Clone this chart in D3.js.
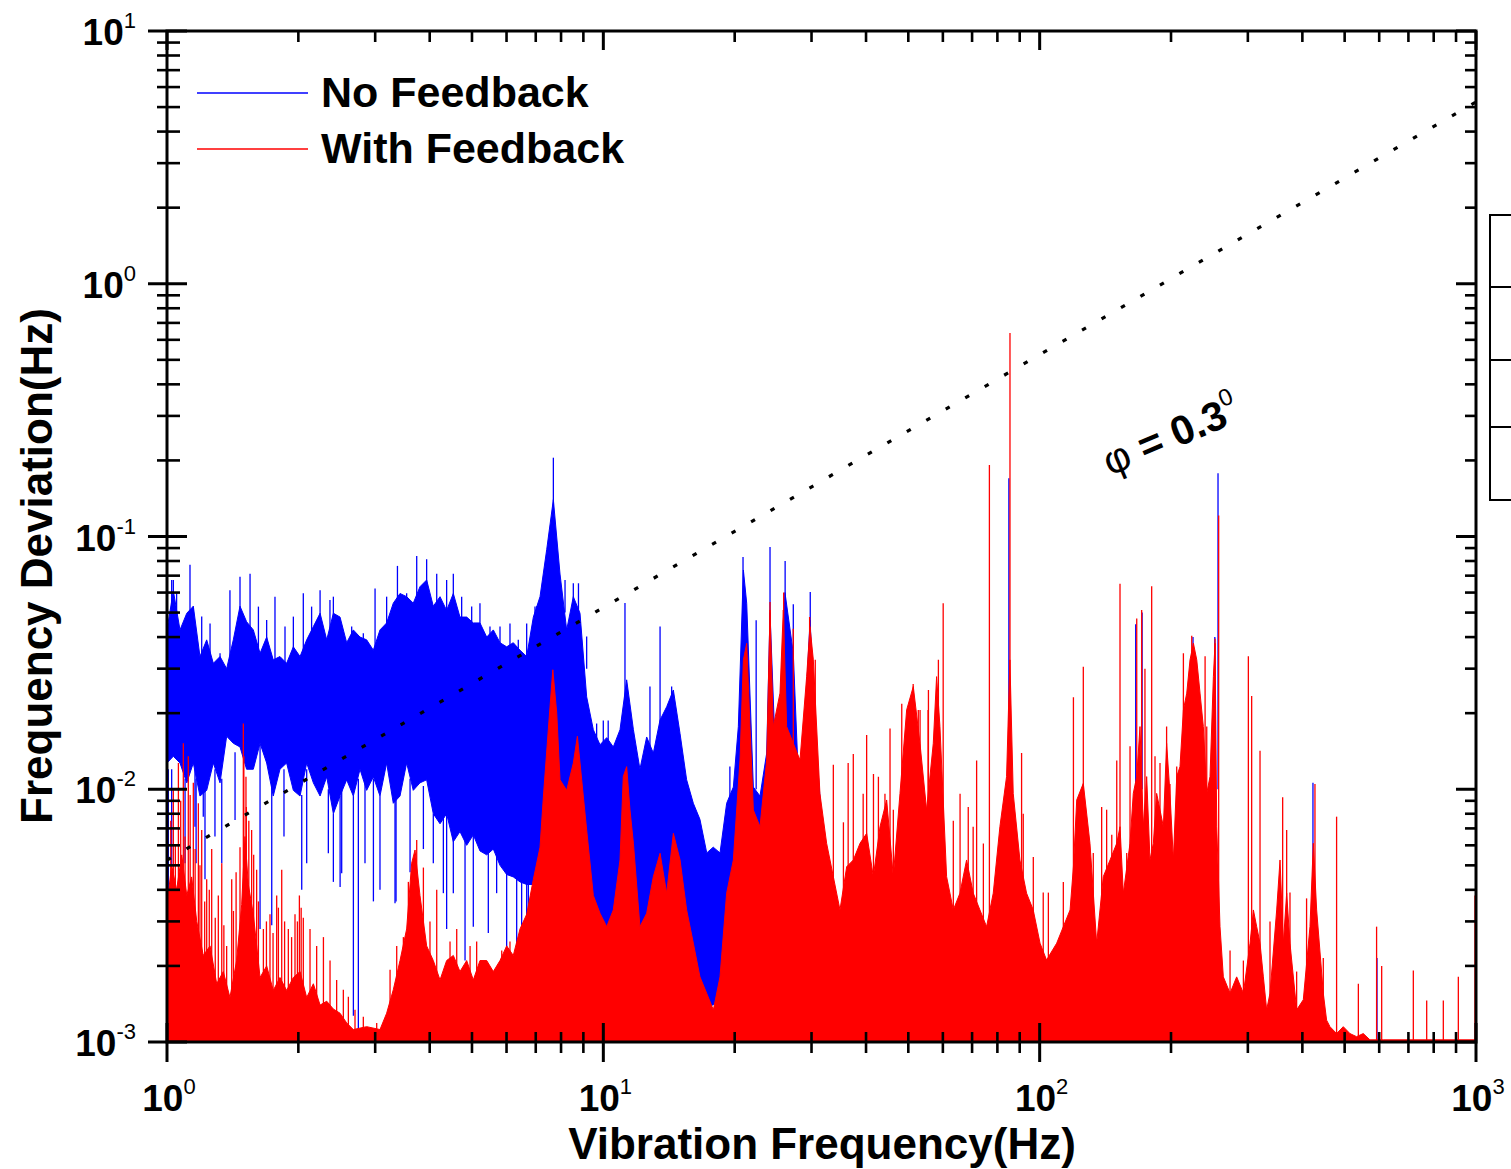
<!DOCTYPE html>
<html lang="en">
<head>
<meta charset="UTF-8">
<title>Frequency Deviation vs Vibration Frequency</title>
<script src="https://cdnjs.cloudflare.com/ajax/libs/d3/7.8.5/d3.min.js"></script>
<style>
    body,html{
        margin:0;
        padding:0;
        border:0;
        background:#fff;
    }
    svg{display:block;font-family:"Liberation Sans",Arial,sans-serif;}
</style>
</head>
<body>
<svg id="chart" width="1511" height="1169"></svg>
<script>
// No Feedback (blue): band envelope, Hz
var nfFreq = [1.00,1.034,1.071,1.110,1.149,1.190,1.233,1.277,1.323,1.370,1.419,1.470,1.522,1.577,1.634,1.692,1.752,1.815,1.880,1.948,
    2.018,2.090,2.165,2.243,2.323,2.406,2.492,2.581,2.673,2.769,2.868,2.971,3.077,3.187,3.301,3.420,3.542,3.668,3.800,3.936,
    4.077,4.224,4.374,4.531,4.693,4.862,5.035,5.216,5.404,5.596,5.797,6.004,6.218,6.442,6.673,6.912,7.160,7.418,7.682,7.957,
    8.241,8.536,8.842,9.158,9.486,9.826,10.18,10.54,10.92,11.31,11.72,12.13,
    12.57,13.02,13.49,13.97,14.47,14.99,15.52,16.08,16.65,17.26,17.86,18.51,19.17,19.86,20.39,20.94,21.31,22.07,22.86,23.68,
    24.10,24.96,26.08,27.25,28.24,29.77,30.83,32.50,35.0];
var nfUpper = [0.0427,0.061,0.0427,0.0497,0.053,0.0335,0.039,0.0315,0.0335,0.030,0.039,0.053,0.046,0.0427,0.0345,0.040,0.0325,0.0335,0.0315,0.0366,
    0.0335,0.039,0.044,0.0497,0.039,0.0497,0.048,0.038,0.0427,0.040,0.039,0.0355,0.0427,0.0455,0.0545,0.0595,0.0578,0.0545,0.0633,0.0673,
    0.053,0.0578,0.051,0.0595,0.048,0.048,0.0455,0.0455,0.040,0.0427,0.038,0.0366,0.038,0.0355,0.0335,0.048,0.0578,0.089,0.14,0.071,
    0.0427,0.0578,0.0497,0.0232,0.0172,0.015,0.016,0.0147,0.0172,0.0271,0.0172,0.012,
    0.0161,0.0139,0.0188,0.0212,0.0247,0.0166,0.0109,0.0088,0.0076,0.0056,0.0059,0.0056,0.0088,0.0102,0.0177,0.0737,0.0544,0.0102,0.0094,0.0139,
    0.05,0.0102,0.06,0.0345,0.0076,0.0467,0.0139,0.0041,0.0012];
var nfLower = [0.0127,0.0135,0.0127,0.0106,0.0127,0.0094,0.0099,0.0127,0.0106,0.0162,0.0152,0.0147,0.0120,0.0120,0.0152,0.0127,0.0094,0.0120,0.0127,0.0099,
    0.0094,0.0127,0.0106,0.0094,0.0112,0.0080,0.0094,0.0109,0.0094,0.0120,0.0099,0.0112,0.0094,0.0127,0.0088,0.0094,0.0127,0.0099,0.0106,0.0109,
    0.0080,0.0073,0.0080,0.0062,0.0068,0.0060,0.0066,0.0057,0.0055,0.0058,0.0050,0.0046,0.0045,0.0043,0.0042,0.0042,0.0036,0.0032,0.0038,0.0032,
    0.0038,0.0038,0.0032,0.0028,0.0024,0.0022,0.0021,0.0024,0.0028,0.0028,0.0024,0.0021,
    0.0022,0.0022,0.0022,0.0024,0.0024,0.0022,0.0020,0.0017,0.0015,0.0014,0.0014,0.0015,0.0017,0.0022,0.0024,0.0030,0.0030,0.0030,0.0028,0.0028,
    0.0028,0.0026,0.0026,0.0026,0.0026,0.0026,0.0026,0.0020,0.0011];
// narrow blue excursions: [freq, from, to]
var nfSpikes = [
    // downward
    [1.007,0.001,0.012],[1.025,0.00494,0.012],[1.10,0.0051,0.011],[1.159,0.00711,0.012],[1.166,0.0051,0.011],[1.211,0.00779,0.011],
    [1.222,0.0044,0.0099],[1.288,0.0065,0.012],[1.335,0.0051,0.011],[1.432,0.00756,0.014],[1.634,0.0028,0.015],[1.738,0.0029,0.011],
    [1.854,0.0065,0.012],[2.036,0.0040,0.0095],[2.090,0.0051,0.012],[2.343,0.00558,0.01],[2.406,0.0043,0.008],[2.493,0.0041,0.0094],
    [2.514,0.00465,0.01],[2.674,0.00127,0.0094],[2.745,0.00106,0.011],[2.843,0.0051,0.011],[2.972,0.0036,0.011],[3.077,0.0040,0.0094],
    [3.331,0.00354,0.009],[3.349,0.0036,0.0092],[3.606,0.0047,0.011],[3.869,0.0058,0.0103],[4.077,0.0051,0.008],[4.299,0.00388,0.008],
    [4.374,0.0028,0.008],[4.531,0.00388,0.008],[4.82,0.0021,0.0075],[5.035,0.00286,0.008],[5.45,0.0027,0.007],[5.695,0.00388,0.007],
    [6.004,0.0022,0.0056],[6.33,0.0021,0.0054],[6.498,0.00261,0.005],[6.673,0.0027,0.0051],[6.732,0.00286,0.005],[7.160,0.00224,0.004],
    [7.55,0.0015,0.0038],
    // upward
    [1.025,0.03,0.0673],[1.034,0.04,0.0673],[1.052,0.03,0.0596],[1.129,0.04,0.0773],[1.149,0.03,0.0528],[1.201,0.03,0.0482],
    [1.255,0.03,0.0453],[1.323,0.025,0.0345],[1.394,0.03,0.0613],[1.470,0.04,0.0693],[1.550,0.04,0.0713],[1.620,0.03,0.0528],
    [1.692,0.03,0.0467],[1.768,0.03,0.0578],[1.864,0.03,0.044],[1.948,0.03,0.0482],[2.053,0.03,0.0596],[2.145,0.03,0.0528],
    [2.243,0.04,0.0613],[2.363,0.03,0.0561],[2.406,0.04,0.0578],[2.492,0.03,0.0427],[2.650,0.03,0.044],[2.818,0.03,0.0414],
    [2.998,0.035,0.0623],[3.187,0.035,0.0578],[3.374,0.045,0.0765],[3.542,0.04,0.0596],[3.735,0.05,0.0838],[3.936,0.05,0.0813],
    [4.151,0.05,0.0713],[4.374,0.04,0.0673],[4.531,0.05,0.0713],[4.735,0.04,0.0578],[4.992,0.04,0.0528],[5.215,0.04,0.0544],
    [5.498,0.035,0.044],[5.797,0.035,0.044],[6.110,0.035,0.0453],[6.384,0.03,0.039],[6.673,0.03,0.0453],[6.972,0.03,0.0528],
    [7.036,0.04,0.053],[7.348,0.04,0.0694],[7.682,0.1,0.205],[8.17,0.05,0.0673],[8.535,0.04,0.0653],[8.77,0.04,0.0653],
    [9.158,0.03,0.0402],[9.653,0.012,0.0182],[9.998,0.012,0.0187],[10.26,0.012,0.0187],[11.21,0.02,0.0546],[12.79,0.012,0.0255],
    [13.49,0.015,0.044],[14.34,0.015,0.0255],[19.5,0.006,0.0123],[20.9,0.05,0.083],[22.4,0.01,0.0466],[24.1,0.04,0.0909],
    [26.1,0.04,0.080],[27.25,0.03,0.054],[29.8,0.03,0.0603],[85.0,0.01,0.17],[166,0.01,0.045],[171.7,0.01,0.050],
    [224.6,0.01,0.040],[252,0.01,0.040],[256.3,0.01,0.178],[423,0.002,0.0106],[593,0.001,0.00215]];

// With Feedback (red): solid body outline, Hz
var wfFreq = [1.00,1.025,1.052,1.081,1.110,1.139,1.170,1.211,1.255,1.300,1.346,1.394,1.444,1.483,1.509,1.536,1.577,1.634,1.692,1.752,
    1.815,1.880,1.948,2.018,2.090,2.165,2.243,2.323,2.406,2.492,2.581,2.673,2.868,3.077,3.187,3.301,3.420,3.542,3.637,3.702,
    3.800,3.936,4.077,4.224,4.374,4.531,4.693,4.862,5.035,5.216,5.404,5.596,5.797,6.004,6.218,6.442,6.673,6.912,7.160,7.29,
    7.48,7.66,7.82,7.957,8.241,8.536,8.72,8.92,9.158,9.486,
    9.826,10.18,10.54,10.92,11.11,11.31,11.51,11.72,12.13,12.57,13.02,13.49,13.97,14.47,14.99,15.52,16.08,16.65,17.25,17.87,
    18.51,19.17,19.86,20.57,20.94,21.31,21.68,22.07,22.86,23.68,24.10,24.52,25.40,25.85,26.31,27.25,28.23,29.24,29.76,30.29,
    31.36,32.49,33.66,34.86,36.12,37.41,38.75,40.13,41.57,43.06,44.60,46.19,47.85,49.56,51.33,53.17,55.07,57.04,58.05,59.08,
    61.20,63.39,65.66,68.00,70.44,72.96,75.57,78.27,81.07,83.97,85.46,86.98,90.09,93.32,96.66,100.2,103.7,
    109.4,113.3,117.4,119.5,121.6,125.9,130.4,135.1,139.9,145.0,150.2,152.8,155.5,161.1,163.9,166.9,169.8,172.8,175.9,179.0,
    182.2,185.4,192.1,195.4,198.9,202.5,206.1,209.7,213.5,217.3,221.1,225.1,229.1,233.1,237.2,241.5,245.7,250.1,252.3,254.6,
    259.0,263.6,273.1,282.8,293.0,303.5,308.9,314.3,319.9,325.6,331.3,337.2,349.3,355.5,361.8,368.2,374.7,388.1,402.0,416.4,
    423.8,431.3,446.7,454.6,462.7,479.2,496.4,514.1,532.5,551.6,571.3,613.1,1000];
var wfUpper = [0.0035,0.005,0.004,0.0055,0.0038,0.0045,0.003,0.0022,0.0024,0.0017,0.0019,0.0015,0.0021,0.0035,0.0065,0.0042,0.0032,0.0018,0.0020,0.0016,
    0.0018,0.0016,0.0018,0.0019,0.0015,0.0017,0.0014,0.00145,0.00135,0.0013,0.00119,0.00112,0.00115,0.00112,0.0013,0.00161,0.0021,0.0028,0.0051,0.00575,
    0.0038,0.0024,0.0021,0.00176,0.0021,0.0022,0.0019,0.0021,0.00176,0.0021,0.0021,0.0019,0.0021,0.0024,0.0022,0.0028,0.0032,0.0044,0.0059,0.0094,
    0.0172,0.0297,0.020,0.0109,0.0099,0.0127,0.0162,0.0109,0.0069,0.0038,
    0.00323,0.00286,0.00333,0.00525,0.01122,0.01229,0.00828,0.00611,0.00286,0.00323,0.00451,0.00558,0.00388,0.00669,0.00525,0.00333,0.00246,0.00181,0.00156,0.00134,
    0.00181,0.00388,0.00525,0.01305,0.0325,0.0378,0.0177,0.00828,0.00711,0.01305,0.0512,0.0177,0.0240,0.0512,0.0177,0.0152,0.01305,0.0279,0.0440,0.0325,
    0.00963,0.00611,0.00451,0.00333,0.00494,0.00525,0.00611,0.00669,0.00451,0.00711,0.00907,0.00451,0.00963,0.0206,0.0255,0.0152,0.00828,0.0152,0.0279,0.0177,
    0.00451,0.00333,0.00388,0.00525,0.00388,0.00333,0.00286,0.00388,0.00711,0.01122,0.0325,0.00963,0.00525,0.00388,0.00333,0.00246,0.00211,
    0.00246,0.00286,0.00333,0.00494,0.00907,0.01055,0.00611,0.00246,0.00451,0.00525,0.00611,0.00711,0.00388,0.00611,0.00963,0.01122,0.0177,0.00711,0.01122,0.00525,
    0.00611,0.00963,0.00711,0.0152,0.00963,0.00525,0.01122,0.01229,0.0206,0.0240,0.0325,0.0378,0.0325,0.0240,0.0177,0.00963,0.01122,0.0279,0.0378,0.00711,
    0.00286,0.00181,0.00156,0.00181,0.00156,0.00246,0.00333,0.00286,0.00246,0.00181,0.00134,0.00156,0.00333,0.00525,0.00246,0.00388,0.00246,0.00134,0.00147,0.00286,
    0.00611,0.00333,0.00156,0.00122,0.00115,0.00108,0.00115,0.00108,0.00105,0.00108,0.00102,0.00102,0.00102];
// single red lines rising from the axis: [freq, top]
var wfSpikes = [[1.007,0.0038],[1.02,0.0075],[1.034,0.0099],[1.045,0.006],[1.062,0.0127],[1.075,0.009],[1.090,0.0152],[1.10,0.0065],
    [1.119,0.0135],[1.13,0.0095],[1.149,0.0106],[1.16,0.0058],[1.180,0.0088],[1.19,0.0050],[1.201,0.0069],[1.22,0.0036],[1.233,0.0044],
    [1.25,0.0040],[1.266,0.0058],[1.29,0.0031],[1.311,0.0038],[1.335,0.0051],[1.35,0.0029],[1.370,0.0024],[1.407,0.0044],[1.42,0.0033],
    [1.44,0.0047],[1.470,0.0059],[1.496,0.0182],[1.50,0.0135],[1.517,0.0112],[1.52,0.0085],[1.54,0.0075],[1.563,0.0069],[1.58,0.0055],
    [1.605,0.0048],[1.62,0.0036],[1.663,0.0028],[1.69,0.0030],[1.722,0.0032],[1.75,0.0027],[1.784,0.0038],[1.80,0.0034],[1.832,0.0048],
    [1.86,0.0030],[1.897,0.0028],[1.93,0.0026],[1.965,0.0032],[1.99,0.0030],[2.011,0.0038],[2.03,0.0034],[2.053,0.0031],[2.127,0.0028],
    [2.203,0.0024],[2.283,0.0026],[2.364,0.0021],[2.448,0.00176],[2.536,0.00161],[2.604,0.00151],[2.697,0.00134],[2.818,0.00126],
    [3.024,0.00119],[3.245,0.00193],[3.361,0.0024],[3.481,0.0026],[3.574,0.0043],[3.735,0.0063],[3.869,0.0049],[4.006,0.0030],
    [4.151,0.0040],[4.453,0.0025],[4.613,0.0028],[4.95,0.0024],[5.125,0.0025],[5.85,0.0023],[6.11,0.0025],
    [24.1,0.055],[25.9,0.06],[27.25,0.0432],[29.7,0.048],[30.6,0.0325],[33.66,0.0125],[35.5,0.0074],[36.4,0.0127],[37.4,0.0138],
    [39.4,0.0096],[40.13,0.0164],[41.6,0.0115],[42.7,0.0112],[44.2,0.0096],[45.4,0.0174],[46.2,0.0083],[48.3,0.0218],[51.3,0.0261],
    [52.7,0.0206],[53.2,0.0206],[55.5,0.0206],[55.6,0.0247],[58.6,0.0325],[60.1,0.0545],[63.4,0.0075],[65.7,0.0096],[68.6,0.0085],
    [70.4,0.0071],[71.7,0.013],[74.3,0.0061],[76.7,0.192],[85.5,0.638],[90.9,0.0139],[91.7,0.008],[96.7,0.0054],[101.9,0.0039],
    [104.7,0.0039],[113.3,0.0043],[119.5,0.0231],[125.9,0.0305],[132.7,0.0056],[138.7,0.0085],[142.4,0.0083],[146.3,0.0066],
    [150.2,0.013],[152.8,0.065],[158.3,0.0056],[161.1,0.0148],[166.9,0.0474],[171.3,0.0512],[174.3,0.030],[180.6,0.0636],
    [183.8,0.0135],[188.7,0.0127],[195.4,0.0177],[198.9,0.0105],[206.1,0.0123],[213.5,0.0345],[223.1,0.0405],[229.1,0.027],
    [239.4,0.0336],[241.5,0.0177],[252.3,0.0395],[257.2,0.121],[273.1,0.0023],[293,0.0021],[300.8,0.0336],[306.1,0.0234],
    [319.9,0.0142],[337.2,0.0030],[349.3,0.0029],[360.5,0.0093],[368.2,0.0069],[374.7,0.0039],[388.1,0.0019],[409,0.0037],
    [427.5,0.0105],[446.7,0.00215],[479.2,0.00779],[537.5,0.0017],[591.8,0.00286],[607.9,0.002],[718.4,0.00192],[770.9,0.00146],
    [841.6,0.00146],[911,0.00181],[994.6,0.0038]];

// phase line  phi = 0.3 deg
var phiFreq = [1, 1000];
var phiDev = [0.00524, 5.24];

var xDecades = [1, 10, 100, 1000];
var yDecades = [0.001, 0.01, 0.1, 1, 10];
var xExp = ['0', '1', '2', '3'];
var yExp = ['-3', '-2', '-1', '0', '1'];

var blue = '#0000ff', red = '#ff0000';
var L = 167, R = 1476, T = 31, B = 1042;

var svg = d3.select('#chart');
var x = d3.scaleLog().domain([1, 1000]).range([L, R]);
var y = d3.scaleLog().domain([0.001, 10]).range([B, T]);

svg.append('rect').attr('width', 1511).attr('height', 1169).attr('fill', '#fff');
svg.append('defs').append('clipPath').attr('id', 'plotclip').append('rect')
    .attr('x', L).attr('y', T).attr('width', R - L).attr('height', B - T);

var plot = svg.append('g').attr('clip-path', 'url(#plotclip)');

// blue band
var nfData = nfFreq.map(function(f, i){ return {f: f, hi: nfUpper[i], lo: nfLower[i]}; });
plot.append('path').datum(nfData)
    .attr('d', d3.area().x(function(d){return x(d.f);}).y0(function(d){return y(d.lo);}).y1(function(d){return y(d.hi);}))
    .attr('fill', blue).attr('stroke', blue).attr('stroke-width', 1);
plot.selectAll('line.nf').data(nfSpikes).enter().append('line')
    .attr('class', 'nf')
    .attr('x1', function(d){return x(d[0]);}).attr('x2', function(d){return x(d[0]);})
    .attr('y1', function(d){return y(d[1]);}).attr('y2', function(d){return y(d[2]);})
    .attr('stroke', blue).attr('stroke-width', 1.3);

// red body
var wfData = wfFreq.map(function(f, i){ return {f: f, v: wfUpper[i]}; });
plot.append('path').datum(wfData)
    .attr('d', d3.area().x(function(d){return x(d.f);}).y0(B).y1(function(d){return y(d.v);}))
    .attr('fill', red).attr('stroke', red).attr('stroke-width', 1);
plot.selectAll('line.wf').data(wfSpikes).enter().append('line')
    .attr('class', 'wf')
    .attr('x1', function(d){return x(d[0]);}).attr('x2', function(d){return x(d[0]);})
    .attr('y1', B).attr('y2', function(d){return y(d[1]);})
    .attr('stroke', red).attr('stroke-width', 1.3);

// dotted phase line
plot.append('path').datum(phiFreq.map(function(f, i){ return [f, phiDev[i]]; }))
    .attr('d', d3.line().x(function(d){return x(d[0]);}).y(function(d){return y(d[1]);}))
    .attr('fill', 'none').attr('stroke', '#000').attr('stroke-width', 3.2)
    .attr('stroke-dasharray', '4.5 18');

// frame
var axes = svg.append('g').attr('stroke', '#000');
axes.append('rect').attr('x', L).attr('y', T).attr('width', R - L).attr('height', B - T)
    .attr('fill', 'none').attr('stroke-width', 3);

function minors(dec){
    var out = [];
    dec.slice(0, -1).forEach(function(d){ for (var k = 2; k < 10; k++) out.push(d * k); });
    return out;
}

// x ticks: bottom crosses the axis, top points inward
xDecades.forEach(function(v){
    axes.append('line').attr('x1', x(v)).attr('x2', x(v)).attr('y1', B - 19).attr('y2', B + 20).attr('stroke-width', 3);
    axes.append('line').attr('x1', x(v)).attr('x2', x(v)).attr('y1', T).attr('y2', T + 19).attr('stroke-width', 3);
});
minors(xDecades).forEach(function(v){
    axes.append('line').attr('x1', x(v)).attr('x2', x(v)).attr('y1', B - 10).attr('y2', B + 11).attr('stroke-width', 2.6);
    axes.append('line').attr('x1', x(v)).attr('x2', x(v)).attr('y1', T).attr('y2', T + 11).attr('stroke-width', 2.6);
});
// y ticks: left crosses the axis, right points inward
yDecades.forEach(function(v){
    axes.append('line').attr('y1', y(v)).attr('y2', y(v)).attr('x1', L - 19).attr('x2', L + 20).attr('stroke-width', 3);
    axes.append('line').attr('y1', y(v)).attr('y2', y(v)).attr('x1', R - 20).attr('x2', R).attr('stroke-width', 3);
});
minors(yDecades).forEach(function(v){
    axes.append('line').attr('y1', y(v)).attr('y2', y(v)).attr('x1', L - 10).attr('x2', L + 13).attr('stroke-width', 2.6);
    axes.append('line').attr('y1', y(v)).attr('y2', y(v)).attr('x1', R - 11).attr('x2', R).attr('stroke-width', 2.6);
});

// tick labels
var labels = svg.append('g').attr('fill', '#000');
yDecades.forEach(function(v, i){
    var t = labels.append('text').attr('x', 136).attr('y', y(v) + 14).attr('text-anchor', 'end');
    t.append('tspan').attr('font-size', 37).attr('font-weight', 'bold').text('10');
    t.append('tspan').attr('font-size', 22).attr('dy', -17).text(yExp[i]);
});
xDecades.forEach(function(v, i){
    var t = labels.append('text').attr('x', x(v) + 2).attr('y', 1111).attr('text-anchor', 'middle');
    t.append('tspan').attr('font-size', 37).attr('font-weight', 'bold').text('10');
    t.append('tspan').attr('font-size', 22).attr('dy', -17).text(xExp[i]);
});

// axis titles
labels.append('text').attr('x', 822).attr('y', 1159).attr('text-anchor', 'middle')
    .attr('font-size', 44).attr('font-weight', 'bold').text('Vibration Frequency(Hz)');
labels.append('text').attr('transform', 'translate(52,566) rotate(-90)').attr('text-anchor', 'middle')
    .attr('font-size', 44).attr('font-weight', 'bold').text('Frequency Deviation(Hz)');

// legend
var legend = svg.append('g');
legend.append('line').attr('x1', 197).attr('x2', 308).attr('y1', 93).attr('y2', 93).attr('stroke', blue).attr('stroke-width', 1.3);
legend.append('line').attr('x1', 197).attr('x2', 308).attr('y1', 149).attr('y2', 149).attr('stroke', red).attr('stroke-width', 1.3);
legend.append('text').attr('x', 321).attr('y', 107).attr('font-size', 43).attr('font-weight', 'bold').text('No Feedback');
legend.append('text').attr('x', 321).attr('y', 163).attr('font-size', 43).attr('font-weight', 'bold').text('With Feedback');

// phase annotation
var ann = svg.append('text').attr('transform', 'translate(1110,476) rotate(-23)');
ann.append('tspan').attr('font-size', 41).text('\u03c6');
ann.append('tspan').attr('font-size', 41).attr('font-weight', 'bold').text(' = 0.3');
ann.append('tspan').attr('font-size', 24).attr('dy', -19).text('0');

// edge of a neighbouring table, cut by the page border
var tbl = svg.append('g').attr('stroke', '#000').attr('stroke-width', 2).attr('fill', 'none');
tbl.append('rect').attr('x', 1490).attr('y', 215).attr('width', 40).attr('height', 285);
[287, 360, 427].forEach(function(ry){
    tbl.append('line').attr('x1', 1490).attr('x2', 1511).attr('y1', ry).attr('y2', ry);
});
</script>
</body>
</html>
